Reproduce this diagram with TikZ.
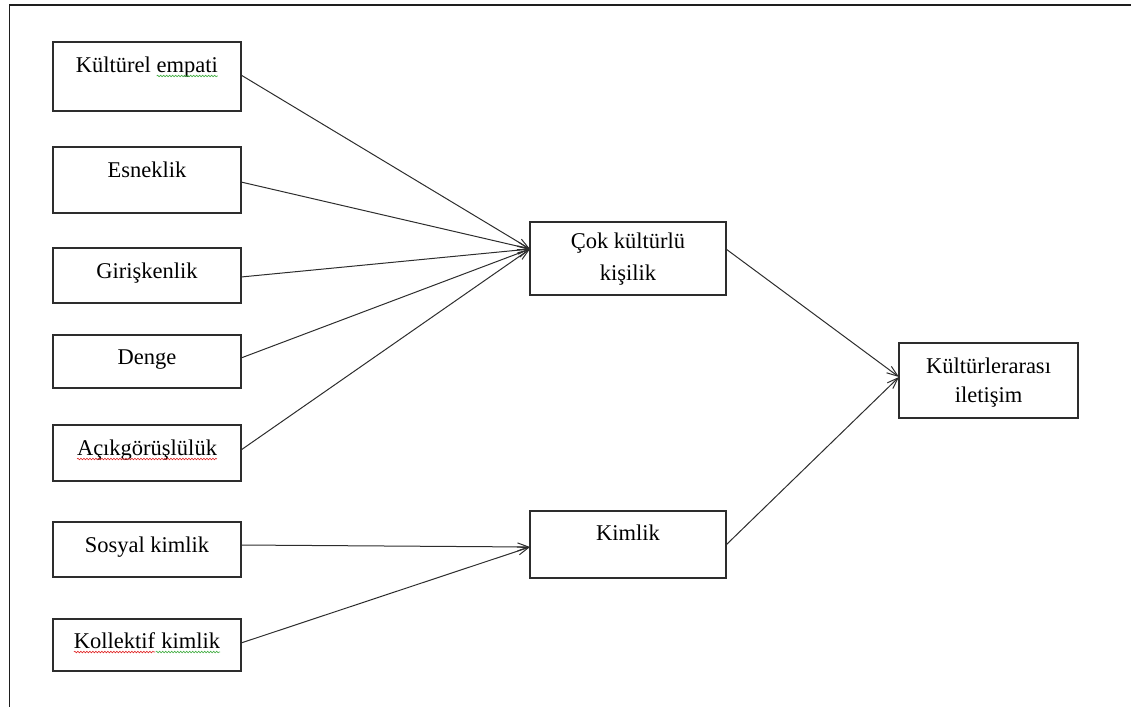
\documentclass[tikz,border=0pt]{standalone}
\usepackage{fontspec}
\setmainfont{Liberation Serif}
\usetikzlibrary{arrows.meta,decorations.pathmorphing}

\definecolor{framegray}{RGB}{30,30,30}
\definecolor{boxgray}{RGB}{45,45,45}
\definecolor{spellred}{RGB}{225,40,40}
\definecolor{spellgreen}{RGB}{70,175,70}

% word with a wavy proofing underline
\newcommand{\squig}[2]{\tikz[baseline=(w.base)]{%
  \node[inner sep=0pt,outer sep=0pt,draw=none] (w) {#2};%
  \draw[#1,line width=0.6pt,decorate,decoration={snake,amplitude=0.8pt,segment length=3pt}]
    ([yshift=-4pt]w.base west) -- ([yshift=-4pt]w.base east);}}

\begin{document}
\begin{tikzpicture}[x=1pt,y=-1pt,
  box/.style={draw=boxgray,line width=1.1pt,inner sep=0pt,outer sep=0pt,rectangle},
  lbl/.style={anchor=base,inner sep=0pt,font=\fontsize{22.5}{30}\selectfont},
  conn/.style={draw=boxgray,line width=1pt,-{Straight Barb[length=11pt,width=8pt,line width=1pt]}}]

\useasboundingbox (0,0) rectangle (1131,707);

% page frame (top and left edges)
\draw[framegray,line width=1.8pt] (1131,5) -- (9.5,5) -- (9.5,707);

% left column of factors
\node[box,minimum width=188pt,minimum height=69pt] (ke) at (147,76.5) {};
\node[box,minimum width=188pt,minimum height=66pt] (es) at (147,180) {};
\node[box,minimum width=188pt,minimum height=55pt] (gi) at (147,275.5) {};
\node[box,minimum width=188pt,minimum height=53pt] (de) at (147,361.5) {};
\node[box,minimum width=188pt,minimum height=56pt] (ac) at (147,453) {};
\node[box,minimum width=188pt,minimum height=55pt] (sk) at (147,549.5) {};
\node[box,minimum width=188pt,minimum height=52pt] (kk) at (147,645) {};

% middle and right boxes
\node[box,minimum width=196pt,minimum height=73pt] (ck) at (628,258.5) {};
\node[box,minimum width=196pt,minimum height=67pt] (ki) at (628,544.5) {};
\node[box,minimum width=179pt,minimum height=75pt] (ki2) at (988.5,380.5) {};

% labels
\node[lbl] (tke) at (147,72) {Kültürel \squig{spellgreen}{empati}};
\node[lbl] (tes) at (147,177) {Esneklik};
\node[lbl] (tgi) at (147,278) {Girişkenlik};
\node[lbl] (tde) at (147,364) {Denge};
\node[lbl] (tac) at (147,455) {\squig{spellred}{Açıkgörüşlülük}};
\node[lbl] (tsk) at (147,552) {Sosyal kimlik};
\node[lbl] (tkk) at (147,648) {\squig{spellred}{Kollektif}\squig{spellgreen}{\ kimlik}};
\node[lbl] (tck1) at (628,248) {Çok kültürlü};
\node[lbl] (tck2) at (628,280) {kişilik};
\node[lbl] (tki) at (628,540) {Kimlik};
\node[lbl] (tkl1) at (988.5,373) {Kültürlerarası};
\node[lbl] (tkl2) at (988.5,402) {iletişim};

% arrival points
\coordinate (ckin) at (ck.west |- 0,249);
\coordinate (ckout) at (ck.east |- 0,249);
\coordinate (kiin) at (ki.west |- 0,547);
\coordinate (kiout) at (ki.east |- 0,545);
\coordinate (klin) at (ki2.west |- 0,377);

% connectors
\draw[conn] (ke.east |- 0,75) -- (ckin);
\draw[conn] (es.east |- 0,182) -- (ckin);
\draw[conn] (gi.east |- 0,277) -- (ckin);
\draw[conn] (de.east |- 0,358) -- (ckin);
\draw[conn] (ac.east |- 0,450) -- (ckin);
\draw[conn] (sk.east |- 0,545) -- (kiin);
\draw[conn] (kk.east |- 0,643) -- (kiin);
\draw[conn] (ckout) -- (klin);
\draw[conn] (kiout) -- (klin);
\end{tikzpicture}
\end{document}
